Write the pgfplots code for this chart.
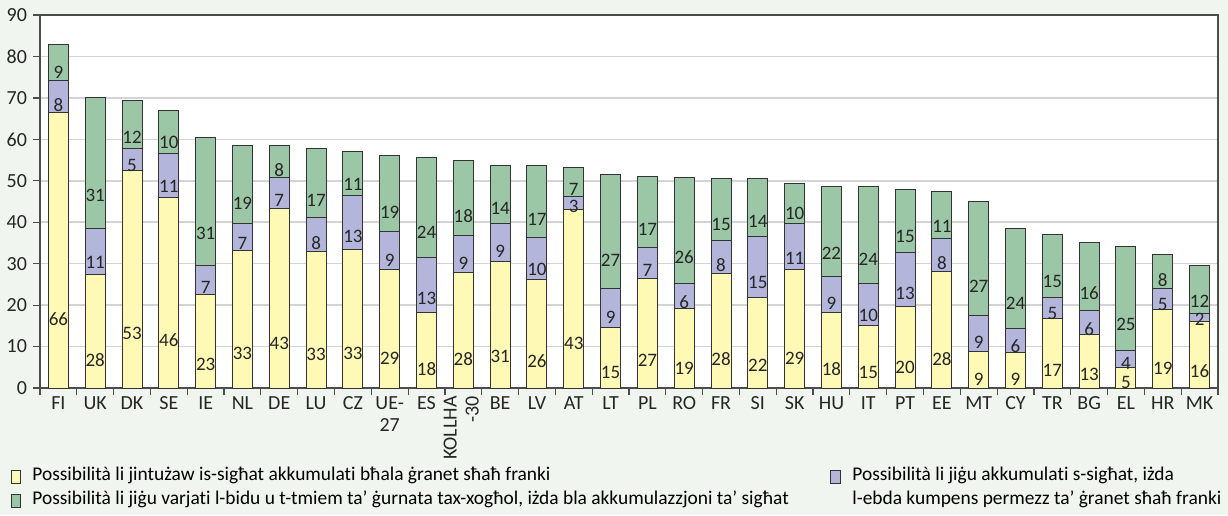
\documentclass[border=0pt]{standalone}
\usepackage{fontspec}
\setmainfont{Carlito}[Ligatures={TeX,NoCommon}]
\usepackage{graphicx}
\usepackage{pgfplots}
\pgfplotsset{compat=1.18}
\usepackage{pgfplotstable}

\definecolor{bgc}{HTML}{F1F5EF}
\definecolor{yel}{HTML}{FFF9B6}
\definecolor{pur}{HTML}{B3B5DA}
\definecolor{grn}{HTML}{9CC7A6}
\definecolor{edge}{HTML}{333333}

% idx, yellow, purple, green (value + printed label)
\pgfplotstableread{
idx a la b lb c lc
0 66.4 66 7.7 8 8.7 9
1 27.4 28 11.2 11 31.4 31
2 52.5 53 5.2 5 11.6 12
3 46.0 46 10.6 11 10.3 10
4 22.6 23 6.9 7 31.0 31
5 33.2 33 6.6 7 18.8 19
6 43.3 43 7.4 7 7.8 8
7 32.9 33 8.2 8 16.8 17
8 33.3 33 13.2 13 10.6 11
9 28.5 29 9.2 9 18.5 19
10 18.2 18 13.3 13 24.0 24
11 27.9 28 9.0 9 18.0 18
12 30.6 31 9.2 9 13.9 14
13 26.1 26 10.3 10 17.3 17
14 43.1 43 3.1 3 6.9 7
15 14.7 15 9.3 9 27.4 27
16 26.5 27 7.5 7 17.0 17
17 19.2 19 6.0 6 25.7 26
18 27.7 28 8.0 8 14.9 15
19 21.9 22 14.7 15 14.0 14
20 28.6 29 11.1 11 9.7 10
21 18.3 18 8.7 9 21.6 22
22 15.1 15 10.0 10 23.6 24
23 19.6 20 13.0 13 15.4 15
24 28.0 28 8.1 8 11.4 11
25 8.8 9 8.8 9 27.3 27
26 8.6 9 5.7 6 24.1 24
27 16.7 17 5.2 5 15.1 15
28 12.8 13 6.0 6 16.4 16
29 5.0 5 4.0 4 25.1 25
30 18.9 19 5.1 5 8.2 8
31 16.1 16 1.8 2 11.6 12
}\datatable

\begin{document}
\begin{tikzpicture}
\path[use as bounding box, fill=bgc] (-20pt,-63.5pt) rectangle (594pt,194pt);
\begin{axis}[
  at={(0pt,0pt)}, anchor=south west,
  scale only axis,
  width=589pt, height=186.5pt,
  ybar stacked, bar width=10pt,
  xmin=-0.5, xmax=31.5, ymin=0, ymax=90,
  enlargelimits=false,
  axis background/.style={fill=white},
  axis line style={draw=black!70, line width=0.7pt},
  xtick={0,...,31},
  xticklabels={FI,UK,DK,SE,IE,NL,DE,LU,CZ,{UE-\\27},ES,
    {\rotatebox{90}{\begin{tabular}{@{}r@{}}KOLLHA\\-30\end{tabular}}},
    BE,LV,AT,LT,PL,RO,FR,SI,SK,HU,IT,PT,EE,MT,CY,TR,BG,EL,HR,MK},
  minor xtick={-0.5,0.5,...,31.5},
  ytick={0,10,...,90},
  minor ytick={0,10,...,90},
  major tick length=0pt,
  minor tick length=3.5pt,
  minor tick style={draw=black!70, line width=0.6pt},
  tick align=outside,
  xtick pos=bottom, ytick pos=left,
  ymajorgrids=true,
  grid style={draw=black!17, line width=0.8pt},
  xticklabel style={align=center, font=\fontsize{10}{11}\selectfont, text=black!85, inner sep=1pt, yshift=-3pt},
  yticklabel style={font=\fontsize{10}{11}\selectfont, text=black!85, xshift=-3pt},
  /pgf/number format/assume math mode=true,
  point meta=explicit symbolic,
  visualization depends on=rawy \as \rawy,
  nodes near coords,
  every node near coord/.append style={
    font=\fontsize{9.5}{10}\selectfont, text=black!85, anchor=center,
    shift={(axis direction cs:0,-\rawy/4)}},
  every axis plot/.append style={draw=edge, line width=0.5pt},
]
\addplot[fill=yel] table[x=idx, y=a, meta=la] {\datatable};
\addplot[fill=pur] table[x=idx, y=b, meta=lb] {\datatable};
\addplot[fill=grn] table[x=idx, y=c, meta=lc] {\datatable};
\end{axis}
% legend
\begin{scope}[font=\fontsize{9.7}{10}\selectfont]
\draw[fill=yel, draw=edge, line width=0.5pt] (-14pt,-47.5pt) rectangle (-9.5pt,-41pt);
\node[anchor=base west, inner sep=0pt] at (-4pt,-46.3pt) {Possibilità li jintużaw is-sigħat akkumulati bħala ġranet sħaħ franki};
\draw[fill=grn, draw=edge, line width=0.5pt] (-14pt,-59.5pt) rectangle (-9.5pt,-53pt);
\node[anchor=base west, inner sep=0pt] at (-4pt,-58.3pt) {Possibilità li jiġu varjati l-bidu u t-tmiem ta' ġurnata tax-xogħol, iżda bla akkumulazzjoni ta' sigħat};
\draw[fill=pur, draw=edge, line width=0.5pt] (395pt,-47.5pt) rectangle (400pt,-41pt);
\node[anchor=base west, inner sep=0pt] at (406pt,-46.3pt) {Possibilità li jiġu akkumulati s-sigħat, iżda};
\node[anchor=base west, inner sep=0pt] at (406pt,-58.3pt) {l-ebda kumpens permezz ta' ġranet sħaħ franki};
\end{scope}
\end{tikzpicture}
\end{document}
